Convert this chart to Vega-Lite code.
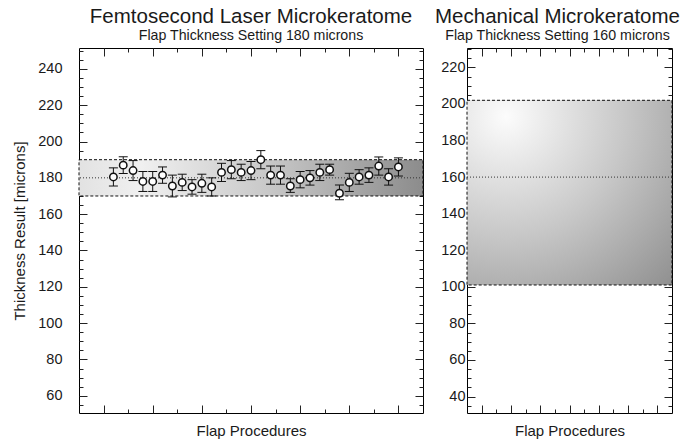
{
  "$schema": "https://vega.github.io/schema/vega-lite/v6.json",
  "padding": {"left": 12, "top": 6, "right": 5, "bottom": 5},
  "spacing": 44,
  "bounds": "flush",
  "config": {
    "font": "Liberation Sans",
    "view": {"stroke": "black", "strokeWidth": 1},
    "axis": {"domain": false, "grid": false, "tickColor": "#222", "tickWidth": 1, "labelFontSize": 14.5, "labelColor": "#1a1a1a", "labelFont": "Liberation Sans", "titleFont": "Liberation Sans", "titleFontSize": 15, "titleFontWeight": "normal", "titleColor": "#1a1a1a"},
    "title": {"fontSize": 20.5, "fontWeight": "normal", "subtitleFontSize": 14.2, "subtitlePadding": 2, "offset": 4, "color": "#1a1a1a", "subtitleColor": "#1a1a1a", "font": "Liberation Sans", "subtitleFont": "Liberation Sans"}
  },
  "datasets": {
    "femto": [
      {"proc": 1, "thickness": 180.5, "lo": 175.5, "hi": 185.5},
      {"proc": 2, "thickness": 187, "lo": 182.4, "hi": 191.6},
      {"proc": 3, "thickness": 184, "lo": 178.5, "hi": 189.5},
      {"proc": 4, "thickness": 178, "lo": 172.5, "hi": 183.5},
      {"proc": 5, "thickness": 178, "lo": 172.5, "hi": 183.5},
      {"proc": 6, "thickness": 181.5, "lo": 177, "hi": 186},
      {"proc": 7, "thickness": 175.5, "lo": 169.5, "hi": 181.5},
      {"proc": 8, "thickness": 177.5, "lo": 173, "hi": 182},
      {"proc": 9, "thickness": 175, "lo": 171, "hi": 179},
      {"proc": 10, "thickness": 177, "lo": 172, "hi": 182},
      {"proc": 11, "thickness": 175, "lo": 170, "hi": 180},
      {"proc": 12, "thickness": 183, "lo": 178, "hi": 188},
      {"proc": 13, "thickness": 184.5, "lo": 179.5, "hi": 189.5},
      {"proc": 14, "thickness": 183, "lo": 178.5, "hi": 187.5},
      {"proc": 15, "thickness": 184, "lo": 179, "hi": 189},
      {"proc": 16, "thickness": 190, "lo": 185, "hi": 195},
      {"proc": 17, "thickness": 181.5, "lo": 176.5, "hi": 186.5},
      {"proc": 18, "thickness": 181.5, "lo": 176.5, "hi": 186.5},
      {"proc": 19, "thickness": 175.5, "lo": 172, "hi": 179.5},
      {"proc": 20, "thickness": 179, "lo": 174.5, "hi": 183.5},
      {"proc": 21, "thickness": 180, "lo": 176, "hi": 184},
      {"proc": 22, "thickness": 183, "lo": 178.5, "hi": 187.5},
      {"proc": 23, "thickness": 184.5, "lo": 181.5, "hi": 187.5},
      {"proc": 24, "thickness": 171.5, "lo": 168, "hi": 176},
      {"proc": 25, "thickness": 177.5, "lo": 172.5, "hi": 182.5},
      {"proc": 26, "thickness": 180.5, "lo": 176.5, "hi": 184.5},
      {"proc": 27, "thickness": 181.5, "lo": 177.5, "hi": 185.5},
      {"proc": 28, "thickness": 186.5, "lo": 181.5, "hi": 191.5},
      {"proc": 29, "thickness": 180.5, "lo": 176, "hi": 185},
      {"proc": 30, "thickness": 186, "lo": 181, "hi": 191}
    ],
    "femtoBand": [{"lower": 170, "upper": 190, "setting": 180}],
    "mechBand": [{"lower": 101, "upper": 202, "setting": 160}]
  },
  "hconcat": [
    {
      "width": 344,
      "height": 365,
      "title": {"text": "Femtosecond Laser Microkeratome", "subtitle": "Flap Thickness Setting 180 microns", "anchor": "middle", "frame": "group"},
      "resolve": {"axis": {"x": "independent", "y": "independent"}},
      "layer": [
        {
          "data": {"name": "femtoBand"},
          "mark": {"type": "rect", "fill": {"gradient": "linear", "x1": 0, "y1": 0, "x2": 1, "y2": 0, "stops": [{"offset": 0, "color": "#e2e2e2"}, {"offset": 0.18, "color": "#f0f0f0"}, {"offset": 0.55, "color": "#c8c8c8"}, {"offset": 1, "color": "#8c8c8c"}]}},
          "encoding": {
            "x": {"datum": -2.5, "type": "quantitative", "scale": {"domain": [-2.5, 32.5], "nice": false, "zero": false},
              "axis": {"orient": "bottom", "values": [0, 2.5, 5, 7.5, 10, 12.5, 15, 17.5, 20, 22.5, 25, 27.5, 30], "labels": false, "tickSize": {"condition": {"test": "datum.value % 5 === 0", "value": -8}, "value": -4}, "title": "Flap Procedures", "titlePadding": 10}},
            "x2": {"datum": 32.5},
            "y": {"field": "lower", "type": "quantitative", "scale": {"domain": [50.5, 251.5], "nice": false, "zero": false},
              "axis": {"orient": "left", "values": [55, 60, 65, 70, 75, 80, 85, 90, 95, 100, 105, 110, 115, 120, 125, 130, 135, 140, 145, 150, 155, 160, 165, 170, 175, 180, 185, 190, 195, 200, 205, 210, 215, 220, 225, 230, 235, 240, 245, 250], "labelExpr": "datum.value % 20 === 0 ? datum.label : ''", "tickSize": {"condition": {"test": "datum.value % 20 === 0", "value": -8}, "value": -4}, "labelPadding": 25, "title": "Thickness Result [microns]", "titlePadding": 10}},
            "y2": {"field": "upper"}
          }
        },
        {
          "data": {"name": "femtoBand"},
          "mark": {"type": "rect", "fill": null, "fillOpacity": 0, "stroke": "#111", "strokeWidth": 1, "strokeDash": [3, 2]},
          "encoding": {
            "x": {"datum": -2.5, "type": "quantitative",
              "axis": {"orient": "top", "values": [0, 2.5, 5, 7.5, 10, 12.5, 15, 17.5, 20, 22.5, 25, 27.5, 30], "labels": false, "tickSize": {"condition": {"test": "datum.value % 5 === 0", "value": -8}, "value": -4}, "title": null}},
            "x2": {"datum": 32.5},
            "y": {"field": "lower", "type": "quantitative",
              "axis": {"orient": "right", "values": [55, 60, 65, 70, 75, 80, 85, 90, 95, 100, 105, 110, 115, 120, 125, 130, 135, 140, 145, 150, 155, 160, 165, 170, 175, 180, 185, 190, 195, 200, 205, 210, 215, 220, 225, 230, 235, 240, 245, 250], "labels": false, "tickSize": {"condition": {"test": "datum.value % 20 === 0", "value": -8}, "value": -4}, "title": null}},
            "y2": {"field": "upper"}
          }
        },
        {
          "data": {"name": "femtoBand"},
          "mark": {"type": "rule", "color": "#333", "strokeDash": [1, 2], "strokeWidth": 1},
          "encoding": {"y": {"field": "setting", "type": "quantitative", "axis": null}}
        },
        {
          "data": {"name": "femto"},
          "mark": {"type": "rule", "color": "#111", "strokeWidth": 1},
          "encoding": {
            "x": {"field": "proc", "type": "quantitative", "axis": null},
            "y": {"field": "lo", "type": "quantitative", "axis": null},
            "y2": {"field": "hi"}
          }
        },
        {
          "data": {"name": "femto"},
          "mark": {"type": "tick", "orient": "horizontal", "size": 9, "thickness": 1, "color": "#111", "opacity": 1},
          "encoding": {
            "x": {"field": "proc", "type": "quantitative", "axis": null},
            "y": {"field": "lo", "type": "quantitative", "axis": null}
          }
        },
        {
          "data": {"name": "femto"},
          "mark": {"type": "tick", "orient": "horizontal", "size": 9, "thickness": 1, "color": "#111", "opacity": 1},
          "encoding": {
            "x": {"field": "proc", "type": "quantitative", "axis": null},
            "y": {"field": "hi", "type": "quantitative", "axis": null}
          }
        },
        {
          "data": {"name": "femto"},
          "mark": {"type": "point", "shape": "circle", "fill": "white", "fillOpacity": 1, "stroke": "#111", "strokeWidth": 1.5, "size": 55, "opacity": 1},
          "encoding": {
            "x": {"field": "proc", "type": "quantitative", "axis": null},
            "y": {"field": "thickness", "type": "quantitative", "axis": null}
          }
        }
      ]
    },
    {
      "width": 205,
      "height": 365,
      "title": {"text": "Mechanical Microkeratome", "subtitle": "Flap Thickness Setting 160 microns", "anchor": "middle", "frame": "group", "dx": -12},
      "resolve": {"axis": {"x": "independent", "y": "independent"}},
      "layer": [
        {
          "data": {"name": "mechBand"},
          "mark": {"type": "rect", "fill": {"gradient": "radial", "x1": 0.19, "y1": 0.13, "r1": 0, "x2": 0.19, "y2": 0.13, "r2": 1.15, "stops": [{"offset": 0, "color": "#fcfcfc"}, {"offset": 0.5, "color": "#c8c8c8"}, {"offset": 1, "color": "#909090"}]}},
          "encoding": {
            "x": {"datum": -2.5, "type": "quantitative", "scale": {"domain": [-2.5, 32.5], "nice": false, "zero": false},
              "axis": {"orient": "bottom", "values": [0, 2.5, 5, 7.5, 10, 12.5, 15, 17.5, 20, 22.5, 25, 27.5, 30], "labels": false, "tickSize": {"condition": {"test": "datum.value % 5 === 0", "value": -8}, "value": -4}, "title": "Flap Procedures", "titlePadding": 10}},
            "x2": {"datum": 32.5},
            "y": {"field": "lower", "type": "quantitative", "scale": {"domain": [31, 230.6], "nice": false, "zero": false},
              "axis": {"orient": "left", "values": [35, 40, 45, 50, 55, 60, 65, 70, 75, 80, 85, 90, 95, 100, 105, 110, 115, 120, 125, 130, 135, 140, 145, 150, 155, 160, 165, 170, 175, 180, 185, 190, 195, 200, 205, 210, 215, 220, 225, 230], "labelExpr": "datum.value % 20 === 0 ? datum.label : ''", "tickSize": {"condition": {"test": "datum.value % 20 === 0", "value": -8}, "value": -4}, "labelPadding": 10, "title": null}},
            "y2": {"field": "upper"}
          }
        },
        {
          "data": {"name": "mechBand"},
          "mark": {"type": "rect", "fill": null, "fillOpacity": 0, "stroke": "#111", "strokeWidth": 1, "strokeDash": [3, 2]},
          "encoding": {
            "x": {"datum": -2.5, "type": "quantitative",
              "axis": {"orient": "top", "values": [0, 2.5, 5, 7.5, 10, 12.5, 15, 17.5, 20, 22.5, 25, 27.5, 30], "labels": false, "tickSize": {"condition": {"test": "datum.value % 5 === 0", "value": -8}, "value": -4}, "title": null}},
            "x2": {"datum": 32.5},
            "y": {"field": "lower", "type": "quantitative",
              "axis": {"orient": "right", "values": [35, 40, 45, 50, 55, 60, 65, 70, 75, 80, 85, 90, 95, 100, 105, 110, 115, 120, 125, 130, 135, 140, 145, 150, 155, 160, 165, 170, 175, 180, 185, 190, 195, 200, 205, 210, 215, 220, 225, 230], "labels": false, "tickSize": {"condition": {"test": "datum.value % 20 === 0", "value": -8}, "value": -4}, "title": null}},
            "y2": {"field": "upper"}
          }
        },
        {
          "data": {"name": "mechBand"},
          "mark": {"type": "rule", "color": "#333", "strokeDash": [1, 2], "strokeWidth": 1},
          "encoding": {"y": {"field": "setting", "type": "quantitative", "axis": null}}
        }
      ]
    }
  ]
}
